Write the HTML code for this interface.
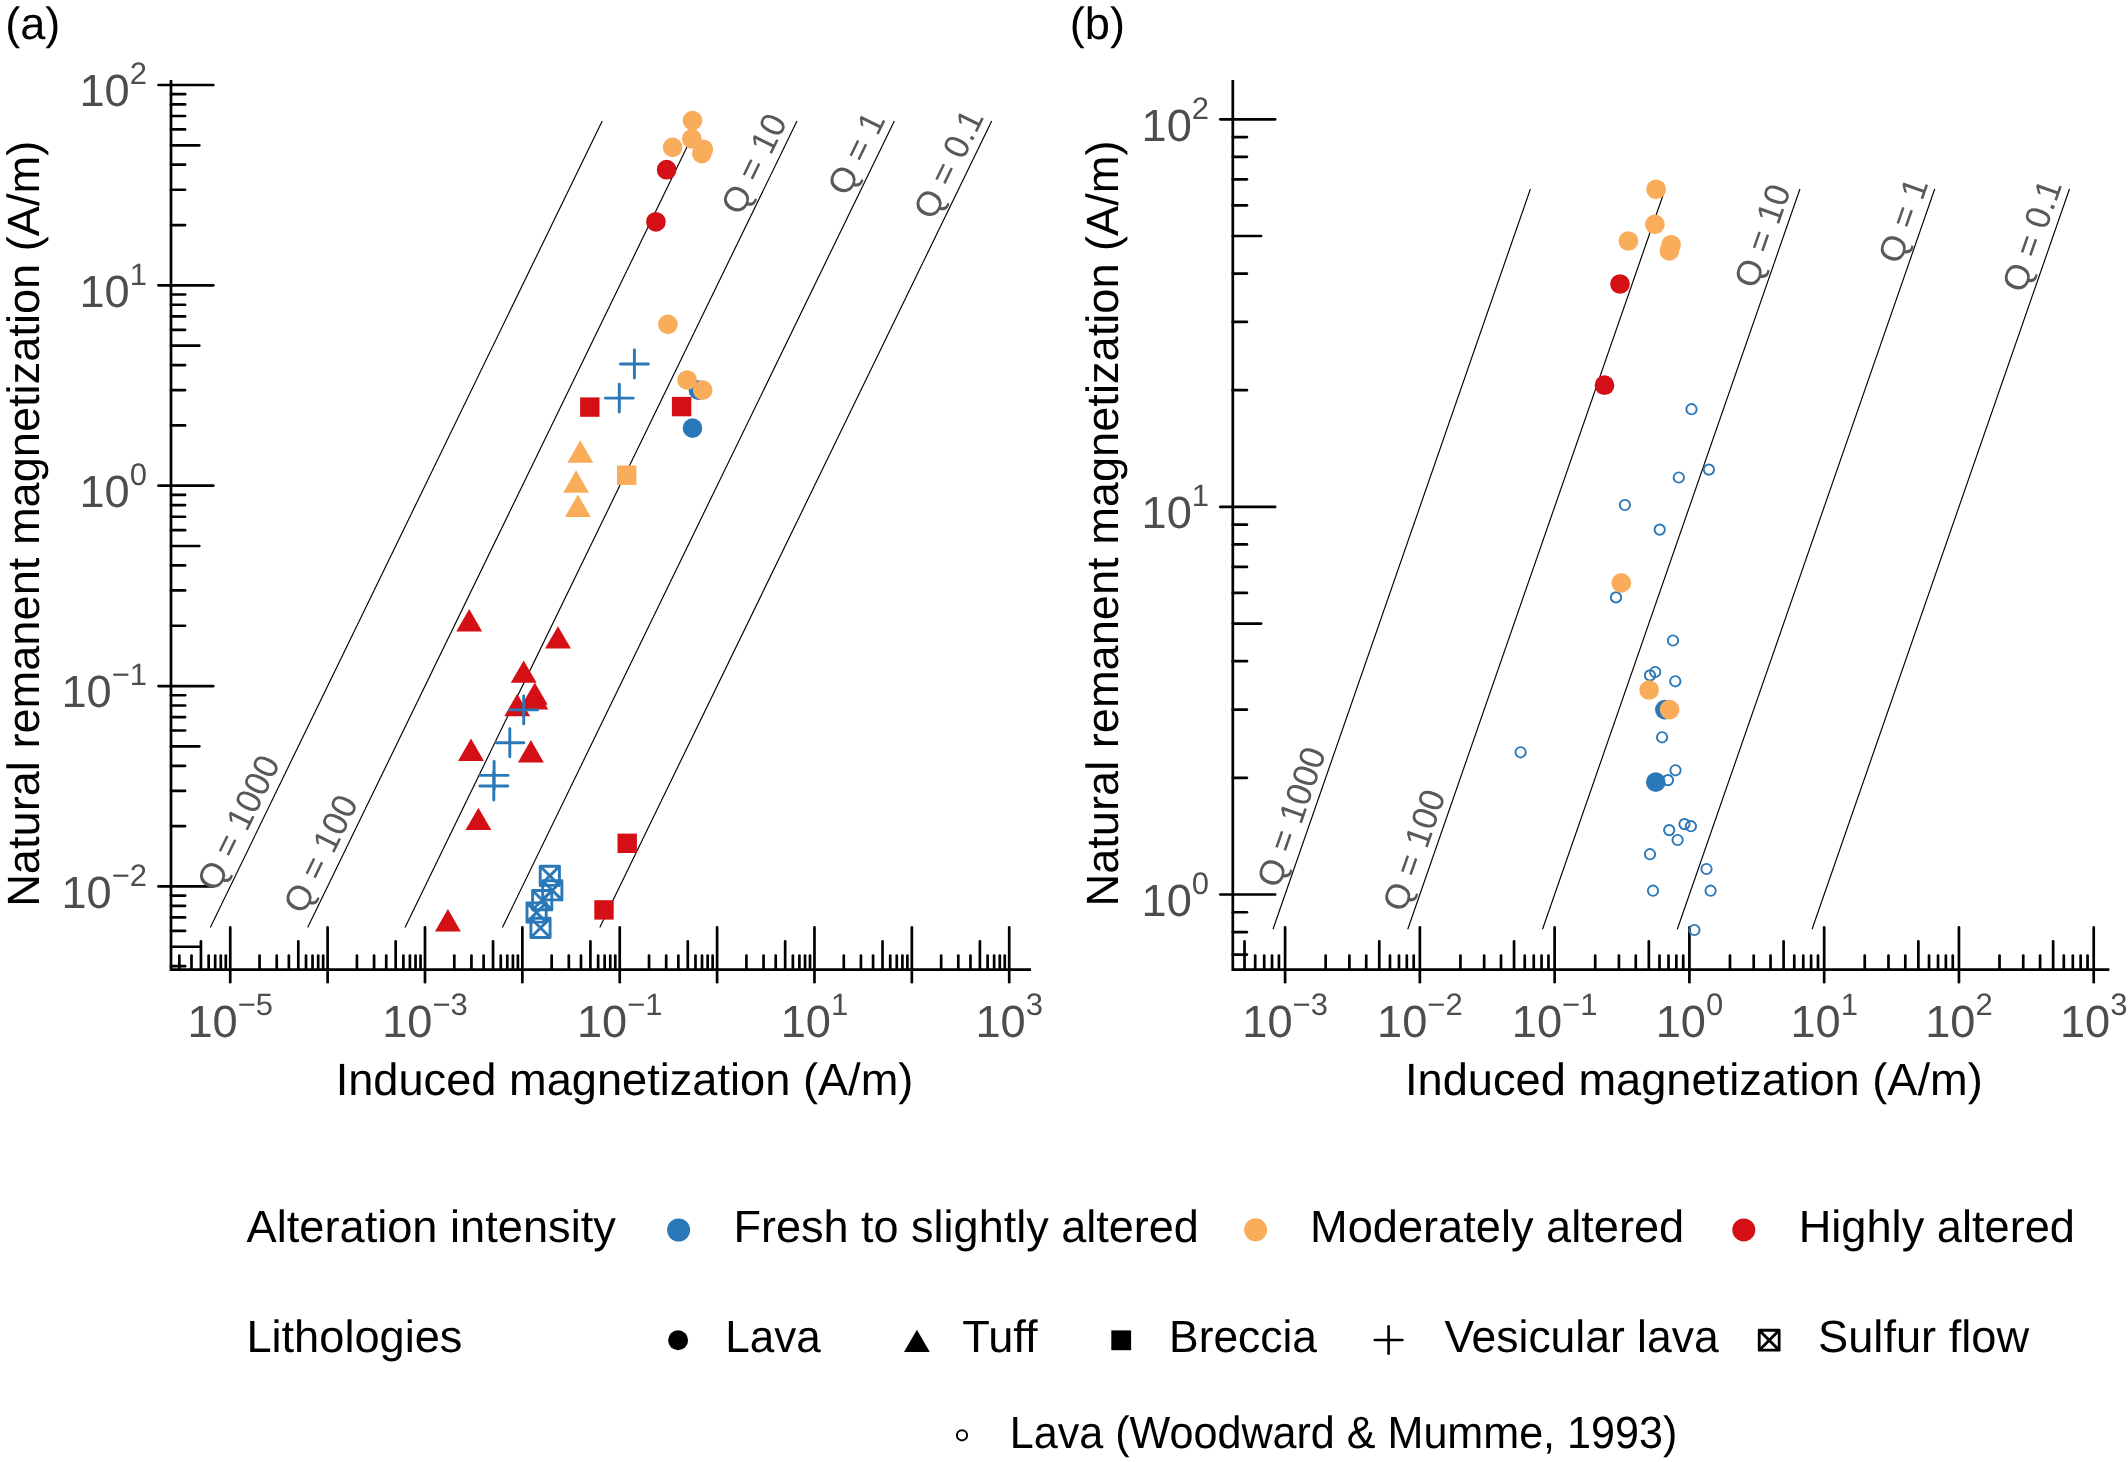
<!DOCTYPE html>
<html><head><meta charset="utf-8"><title>Q plot</title>
<style>html,body{margin:0;padding:0;background:#fff;} svg{display:block;will-change:transform;} text{-webkit-font-smoothing:antialiased;text-rendering:geometricPrecision;}</style>
</head><body>
<svg width="2128" height="1462" viewBox="0 0 2128 1462" font-family="'Liberation Sans', Arial, Helvetica, sans-serif">
<rect width="2128" height="1462" fill="#fff"/>
<line x1="602.23" y1="121.00" x2="210.29" y2="927.50" stroke="#000" stroke-width="1.15" stroke-linecap="butt"/>
<line x1="699.60" y1="121.00" x2="307.66" y2="927.50" stroke="#000" stroke-width="1.15" stroke-linecap="butt"/>
<line x1="796.97" y1="121.00" x2="405.03" y2="927.50" stroke="#000" stroke-width="1.15" stroke-linecap="butt"/>
<line x1="894.34" y1="121.00" x2="502.40" y2="927.50" stroke="#000" stroke-width="1.15" stroke-linecap="butt"/>
<line x1="991.71" y1="121.00" x2="599.77" y2="927.50" stroke="#000" stroke-width="1.15" stroke-linecap="butt"/>
<line x1="1530.40" y1="189.00" x2="1272.99" y2="929.30" stroke="#000" stroke-width="1.15" stroke-linecap="butt"/>
<line x1="1665.17" y1="189.00" x2="1407.76" y2="929.30" stroke="#000" stroke-width="1.15" stroke-linecap="butt"/>
<line x1="1799.94" y1="189.00" x2="1542.53" y2="929.30" stroke="#000" stroke-width="1.15" stroke-linecap="butt"/>
<line x1="1934.71" y1="189.00" x2="1677.30" y2="929.30" stroke="#000" stroke-width="1.15" stroke-linecap="butt"/>
<line x1="2069.48" y1="189.00" x2="1812.07" y2="929.30" stroke="#000" stroke-width="1.15" stroke-linecap="butt"/>
<path d="M171.00 80.00 V969.70 H1031.00" fill="none" stroke="#000" stroke-width="2.7" stroke-linejoin="miter" stroke-linecap="butt"/>
<line x1="179.34" y1="955.60" x2="179.34" y2="969.70" stroke="#000" stroke-width="2.7" stroke-linecap="round"/>
<line x1="191.50" y1="955.60" x2="191.50" y2="969.70" stroke="#000" stroke-width="2.7" stroke-linecap="round"/>
<line x1="200.94" y1="941.40" x2="200.94" y2="969.70" stroke="#000" stroke-width="2.7" stroke-linecap="round"/>
<line x1="208.65" y1="955.60" x2="208.65" y2="969.70" stroke="#000" stroke-width="2.7" stroke-linecap="round"/>
<line x1="215.17" y1="955.60" x2="215.17" y2="969.70" stroke="#000" stroke-width="2.7" stroke-linecap="round"/>
<line x1="220.81" y1="955.60" x2="220.81" y2="969.70" stroke="#000" stroke-width="2.7" stroke-linecap="round"/>
<line x1="225.79" y1="955.60" x2="225.79" y2="969.70" stroke="#000" stroke-width="2.7" stroke-linecap="round"/>
<line x1="230.25" y1="927.40" x2="230.25" y2="982.20" stroke="#000" stroke-width="2.7" stroke-linecap="round"/>
<line x1="259.56" y1="955.60" x2="259.56" y2="969.70" stroke="#000" stroke-width="2.7" stroke-linecap="round"/>
<line x1="276.71" y1="955.60" x2="276.71" y2="969.70" stroke="#000" stroke-width="2.7" stroke-linecap="round"/>
<line x1="288.87" y1="955.60" x2="288.87" y2="969.70" stroke="#000" stroke-width="2.7" stroke-linecap="round"/>
<line x1="298.31" y1="941.40" x2="298.31" y2="969.70" stroke="#000" stroke-width="2.7" stroke-linecap="round"/>
<line x1="306.02" y1="955.60" x2="306.02" y2="969.70" stroke="#000" stroke-width="2.7" stroke-linecap="round"/>
<line x1="312.54" y1="955.60" x2="312.54" y2="969.70" stroke="#000" stroke-width="2.7" stroke-linecap="round"/>
<line x1="318.18" y1="955.60" x2="318.18" y2="969.70" stroke="#000" stroke-width="2.7" stroke-linecap="round"/>
<line x1="323.16" y1="955.60" x2="323.16" y2="969.70" stroke="#000" stroke-width="2.7" stroke-linecap="round"/>
<line x1="327.62" y1="927.40" x2="327.62" y2="982.20" stroke="#000" stroke-width="2.7" stroke-linecap="round"/>
<line x1="356.93" y1="955.60" x2="356.93" y2="969.70" stroke="#000" stroke-width="2.7" stroke-linecap="round"/>
<line x1="374.08" y1="955.60" x2="374.08" y2="969.70" stroke="#000" stroke-width="2.7" stroke-linecap="round"/>
<line x1="386.24" y1="955.60" x2="386.24" y2="969.70" stroke="#000" stroke-width="2.7" stroke-linecap="round"/>
<line x1="395.68" y1="941.40" x2="395.68" y2="969.70" stroke="#000" stroke-width="2.7" stroke-linecap="round"/>
<line x1="403.39" y1="955.60" x2="403.39" y2="969.70" stroke="#000" stroke-width="2.7" stroke-linecap="round"/>
<line x1="409.91" y1="955.60" x2="409.91" y2="969.70" stroke="#000" stroke-width="2.7" stroke-linecap="round"/>
<line x1="415.55" y1="955.60" x2="415.55" y2="969.70" stroke="#000" stroke-width="2.7" stroke-linecap="round"/>
<line x1="420.53" y1="955.60" x2="420.53" y2="969.70" stroke="#000" stroke-width="2.7" stroke-linecap="round"/>
<line x1="424.99" y1="927.40" x2="424.99" y2="982.20" stroke="#000" stroke-width="2.7" stroke-linecap="round"/>
<line x1="454.30" y1="955.60" x2="454.30" y2="969.70" stroke="#000" stroke-width="2.7" stroke-linecap="round"/>
<line x1="471.45" y1="955.60" x2="471.45" y2="969.70" stroke="#000" stroke-width="2.7" stroke-linecap="round"/>
<line x1="483.61" y1="955.60" x2="483.61" y2="969.70" stroke="#000" stroke-width="2.7" stroke-linecap="round"/>
<line x1="493.05" y1="941.40" x2="493.05" y2="969.70" stroke="#000" stroke-width="2.7" stroke-linecap="round"/>
<line x1="500.76" y1="955.60" x2="500.76" y2="969.70" stroke="#000" stroke-width="2.7" stroke-linecap="round"/>
<line x1="507.28" y1="955.60" x2="507.28" y2="969.70" stroke="#000" stroke-width="2.7" stroke-linecap="round"/>
<line x1="512.92" y1="955.60" x2="512.92" y2="969.70" stroke="#000" stroke-width="2.7" stroke-linecap="round"/>
<line x1="517.90" y1="955.60" x2="517.90" y2="969.70" stroke="#000" stroke-width="2.7" stroke-linecap="round"/>
<line x1="522.36" y1="927.40" x2="522.36" y2="982.20" stroke="#000" stroke-width="2.7" stroke-linecap="round"/>
<line x1="551.67" y1="955.60" x2="551.67" y2="969.70" stroke="#000" stroke-width="2.7" stroke-linecap="round"/>
<line x1="568.82" y1="955.60" x2="568.82" y2="969.70" stroke="#000" stroke-width="2.7" stroke-linecap="round"/>
<line x1="580.98" y1="955.60" x2="580.98" y2="969.70" stroke="#000" stroke-width="2.7" stroke-linecap="round"/>
<line x1="590.42" y1="941.40" x2="590.42" y2="969.70" stroke="#000" stroke-width="2.7" stroke-linecap="round"/>
<line x1="598.13" y1="955.60" x2="598.13" y2="969.70" stroke="#000" stroke-width="2.7" stroke-linecap="round"/>
<line x1="604.65" y1="955.60" x2="604.65" y2="969.70" stroke="#000" stroke-width="2.7" stroke-linecap="round"/>
<line x1="610.29" y1="955.60" x2="610.29" y2="969.70" stroke="#000" stroke-width="2.7" stroke-linecap="round"/>
<line x1="615.27" y1="955.60" x2="615.27" y2="969.70" stroke="#000" stroke-width="2.7" stroke-linecap="round"/>
<line x1="619.73" y1="927.40" x2="619.73" y2="982.20" stroke="#000" stroke-width="2.7" stroke-linecap="round"/>
<line x1="649.04" y1="955.60" x2="649.04" y2="969.70" stroke="#000" stroke-width="2.7" stroke-linecap="round"/>
<line x1="666.19" y1="955.60" x2="666.19" y2="969.70" stroke="#000" stroke-width="2.7" stroke-linecap="round"/>
<line x1="678.35" y1="955.60" x2="678.35" y2="969.70" stroke="#000" stroke-width="2.7" stroke-linecap="round"/>
<line x1="687.79" y1="941.40" x2="687.79" y2="969.70" stroke="#000" stroke-width="2.7" stroke-linecap="round"/>
<line x1="695.50" y1="955.60" x2="695.50" y2="969.70" stroke="#000" stroke-width="2.7" stroke-linecap="round"/>
<line x1="702.02" y1="955.60" x2="702.02" y2="969.70" stroke="#000" stroke-width="2.7" stroke-linecap="round"/>
<line x1="707.66" y1="955.60" x2="707.66" y2="969.70" stroke="#000" stroke-width="2.7" stroke-linecap="round"/>
<line x1="712.64" y1="955.60" x2="712.64" y2="969.70" stroke="#000" stroke-width="2.7" stroke-linecap="round"/>
<line x1="717.10" y1="927.40" x2="717.10" y2="982.20" stroke="#000" stroke-width="2.7" stroke-linecap="round"/>
<line x1="746.41" y1="955.60" x2="746.41" y2="969.70" stroke="#000" stroke-width="2.7" stroke-linecap="round"/>
<line x1="763.56" y1="955.60" x2="763.56" y2="969.70" stroke="#000" stroke-width="2.7" stroke-linecap="round"/>
<line x1="775.72" y1="955.60" x2="775.72" y2="969.70" stroke="#000" stroke-width="2.7" stroke-linecap="round"/>
<line x1="785.16" y1="941.40" x2="785.16" y2="969.70" stroke="#000" stroke-width="2.7" stroke-linecap="round"/>
<line x1="792.87" y1="955.60" x2="792.87" y2="969.70" stroke="#000" stroke-width="2.7" stroke-linecap="round"/>
<line x1="799.39" y1="955.60" x2="799.39" y2="969.70" stroke="#000" stroke-width="2.7" stroke-linecap="round"/>
<line x1="805.03" y1="955.60" x2="805.03" y2="969.70" stroke="#000" stroke-width="2.7" stroke-linecap="round"/>
<line x1="810.01" y1="955.60" x2="810.01" y2="969.70" stroke="#000" stroke-width="2.7" stroke-linecap="round"/>
<line x1="814.47" y1="927.40" x2="814.47" y2="982.20" stroke="#000" stroke-width="2.7" stroke-linecap="round"/>
<line x1="843.78" y1="955.60" x2="843.78" y2="969.70" stroke="#000" stroke-width="2.7" stroke-linecap="round"/>
<line x1="860.93" y1="955.60" x2="860.93" y2="969.70" stroke="#000" stroke-width="2.7" stroke-linecap="round"/>
<line x1="873.09" y1="955.60" x2="873.09" y2="969.70" stroke="#000" stroke-width="2.7" stroke-linecap="round"/>
<line x1="882.53" y1="941.40" x2="882.53" y2="969.70" stroke="#000" stroke-width="2.7" stroke-linecap="round"/>
<line x1="890.24" y1="955.60" x2="890.24" y2="969.70" stroke="#000" stroke-width="2.7" stroke-linecap="round"/>
<line x1="896.76" y1="955.60" x2="896.76" y2="969.70" stroke="#000" stroke-width="2.7" stroke-linecap="round"/>
<line x1="902.40" y1="955.60" x2="902.40" y2="969.70" stroke="#000" stroke-width="2.7" stroke-linecap="round"/>
<line x1="907.38" y1="955.60" x2="907.38" y2="969.70" stroke="#000" stroke-width="2.7" stroke-linecap="round"/>
<line x1="911.84" y1="927.40" x2="911.84" y2="982.20" stroke="#000" stroke-width="2.7" stroke-linecap="round"/>
<line x1="941.15" y1="955.60" x2="941.15" y2="969.70" stroke="#000" stroke-width="2.7" stroke-linecap="round"/>
<line x1="958.30" y1="955.60" x2="958.30" y2="969.70" stroke="#000" stroke-width="2.7" stroke-linecap="round"/>
<line x1="970.46" y1="955.60" x2="970.46" y2="969.70" stroke="#000" stroke-width="2.7" stroke-linecap="round"/>
<line x1="979.90" y1="941.40" x2="979.90" y2="969.70" stroke="#000" stroke-width="2.7" stroke-linecap="round"/>
<line x1="987.61" y1="955.60" x2="987.61" y2="969.70" stroke="#000" stroke-width="2.7" stroke-linecap="round"/>
<line x1="994.13" y1="955.60" x2="994.13" y2="969.70" stroke="#000" stroke-width="2.7" stroke-linecap="round"/>
<line x1="999.77" y1="955.60" x2="999.77" y2="969.70" stroke="#000" stroke-width="2.7" stroke-linecap="round"/>
<line x1="1004.75" y1="955.60" x2="1004.75" y2="969.70" stroke="#000" stroke-width="2.7" stroke-linecap="round"/>
<line x1="1009.21" y1="927.40" x2="1009.21" y2="982.20" stroke="#000" stroke-width="2.7" stroke-linecap="round"/>
<line x1="171.00" y1="966.15" x2="185.10" y2="966.15" stroke="#000" stroke-width="2.7" stroke-linecap="round"/>
<line x1="171.00" y1="946.73" x2="199.30" y2="946.73" stroke="#000" stroke-width="2.7" stroke-linecap="round"/>
<line x1="171.00" y1="930.87" x2="185.10" y2="930.87" stroke="#000" stroke-width="2.7" stroke-linecap="round"/>
<line x1="171.00" y1="917.46" x2="185.10" y2="917.46" stroke="#000" stroke-width="2.7" stroke-linecap="round"/>
<line x1="171.00" y1="905.84" x2="185.10" y2="905.84" stroke="#000" stroke-width="2.7" stroke-linecap="round"/>
<line x1="171.00" y1="895.59" x2="185.10" y2="895.59" stroke="#000" stroke-width="2.7" stroke-linecap="round"/>
<line x1="158.50" y1="886.42" x2="213.30" y2="886.42" stroke="#000" stroke-width="2.7" stroke-linecap="round"/>
<line x1="171.00" y1="826.11" x2="185.10" y2="826.11" stroke="#000" stroke-width="2.7" stroke-linecap="round"/>
<line x1="171.00" y1="790.82" x2="185.10" y2="790.82" stroke="#000" stroke-width="2.7" stroke-linecap="round"/>
<line x1="171.00" y1="765.79" x2="185.10" y2="765.79" stroke="#000" stroke-width="2.7" stroke-linecap="round"/>
<line x1="171.00" y1="746.37" x2="199.30" y2="746.37" stroke="#000" stroke-width="2.7" stroke-linecap="round"/>
<line x1="171.00" y1="730.51" x2="185.10" y2="730.51" stroke="#000" stroke-width="2.7" stroke-linecap="round"/>
<line x1="171.00" y1="717.10" x2="185.10" y2="717.10" stroke="#000" stroke-width="2.7" stroke-linecap="round"/>
<line x1="171.00" y1="705.48" x2="185.10" y2="705.48" stroke="#000" stroke-width="2.7" stroke-linecap="round"/>
<line x1="171.00" y1="695.23" x2="185.10" y2="695.23" stroke="#000" stroke-width="2.7" stroke-linecap="round"/>
<line x1="158.50" y1="686.06" x2="213.30" y2="686.06" stroke="#000" stroke-width="2.7" stroke-linecap="round"/>
<line x1="171.00" y1="625.75" x2="185.10" y2="625.75" stroke="#000" stroke-width="2.7" stroke-linecap="round"/>
<line x1="171.00" y1="590.46" x2="185.10" y2="590.46" stroke="#000" stroke-width="2.7" stroke-linecap="round"/>
<line x1="171.00" y1="565.43" x2="185.10" y2="565.43" stroke="#000" stroke-width="2.7" stroke-linecap="round"/>
<line x1="171.00" y1="546.01" x2="199.30" y2="546.01" stroke="#000" stroke-width="2.7" stroke-linecap="round"/>
<line x1="171.00" y1="530.15" x2="185.10" y2="530.15" stroke="#000" stroke-width="2.7" stroke-linecap="round"/>
<line x1="171.00" y1="516.74" x2="185.10" y2="516.74" stroke="#000" stroke-width="2.7" stroke-linecap="round"/>
<line x1="171.00" y1="505.12" x2="185.10" y2="505.12" stroke="#000" stroke-width="2.7" stroke-linecap="round"/>
<line x1="171.00" y1="494.87" x2="185.10" y2="494.87" stroke="#000" stroke-width="2.7" stroke-linecap="round"/>
<line x1="158.50" y1="485.70" x2="213.30" y2="485.70" stroke="#000" stroke-width="2.7" stroke-linecap="round"/>
<line x1="171.00" y1="425.39" x2="185.10" y2="425.39" stroke="#000" stroke-width="2.7" stroke-linecap="round"/>
<line x1="171.00" y1="390.10" x2="185.10" y2="390.10" stroke="#000" stroke-width="2.7" stroke-linecap="round"/>
<line x1="171.00" y1="365.07" x2="185.10" y2="365.07" stroke="#000" stroke-width="2.7" stroke-linecap="round"/>
<line x1="171.00" y1="345.65" x2="199.30" y2="345.65" stroke="#000" stroke-width="2.7" stroke-linecap="round"/>
<line x1="171.00" y1="329.79" x2="185.10" y2="329.79" stroke="#000" stroke-width="2.7" stroke-linecap="round"/>
<line x1="171.00" y1="316.38" x2="185.10" y2="316.38" stroke="#000" stroke-width="2.7" stroke-linecap="round"/>
<line x1="171.00" y1="304.76" x2="185.10" y2="304.76" stroke="#000" stroke-width="2.7" stroke-linecap="round"/>
<line x1="171.00" y1="294.51" x2="185.10" y2="294.51" stroke="#000" stroke-width="2.7" stroke-linecap="round"/>
<line x1="158.50" y1="285.34" x2="213.30" y2="285.34" stroke="#000" stroke-width="2.7" stroke-linecap="round"/>
<line x1="171.00" y1="225.03" x2="185.10" y2="225.03" stroke="#000" stroke-width="2.7" stroke-linecap="round"/>
<line x1="171.00" y1="189.74" x2="185.10" y2="189.74" stroke="#000" stroke-width="2.7" stroke-linecap="round"/>
<line x1="171.00" y1="164.71" x2="185.10" y2="164.71" stroke="#000" stroke-width="2.7" stroke-linecap="round"/>
<line x1="171.00" y1="145.29" x2="199.30" y2="145.29" stroke="#000" stroke-width="2.7" stroke-linecap="round"/>
<line x1="171.00" y1="129.43" x2="185.10" y2="129.43" stroke="#000" stroke-width="2.7" stroke-linecap="round"/>
<line x1="171.00" y1="116.02" x2="185.10" y2="116.02" stroke="#000" stroke-width="2.7" stroke-linecap="round"/>
<line x1="171.00" y1="104.40" x2="185.10" y2="104.40" stroke="#000" stroke-width="2.7" stroke-linecap="round"/>
<line x1="171.00" y1="94.15" x2="185.10" y2="94.15" stroke="#000" stroke-width="2.7" stroke-linecap="round"/>
<line x1="158.50" y1="84.98" x2="213.30" y2="84.98" stroke="#000" stroke-width="2.7" stroke-linecap="round"/>
<path d="M1232.80 80.00 V969.70 H2109.30" fill="none" stroke="#000" stroke-width="2.7" stroke-linejoin="miter" stroke-linecap="butt"/>
<line x1="1244.52" y1="941.40" x2="1244.52" y2="969.70" stroke="#000" stroke-width="2.7" stroke-linecap="round"/>
<line x1="1255.19" y1="955.60" x2="1255.19" y2="969.70" stroke="#000" stroke-width="2.7" stroke-linecap="round"/>
<line x1="1264.21" y1="955.60" x2="1264.21" y2="969.70" stroke="#000" stroke-width="2.7" stroke-linecap="round"/>
<line x1="1272.03" y1="955.60" x2="1272.03" y2="969.70" stroke="#000" stroke-width="2.7" stroke-linecap="round"/>
<line x1="1278.92" y1="955.60" x2="1278.92" y2="969.70" stroke="#000" stroke-width="2.7" stroke-linecap="round"/>
<line x1="1285.09" y1="927.40" x2="1285.09" y2="982.20" stroke="#000" stroke-width="2.7" stroke-linecap="round"/>
<line x1="1325.66" y1="955.60" x2="1325.66" y2="969.70" stroke="#000" stroke-width="2.7" stroke-linecap="round"/>
<line x1="1349.39" y1="955.60" x2="1349.39" y2="969.70" stroke="#000" stroke-width="2.7" stroke-linecap="round"/>
<line x1="1366.23" y1="955.60" x2="1366.23" y2="969.70" stroke="#000" stroke-width="2.7" stroke-linecap="round"/>
<line x1="1379.29" y1="941.40" x2="1379.29" y2="969.70" stroke="#000" stroke-width="2.7" stroke-linecap="round"/>
<line x1="1389.96" y1="955.60" x2="1389.96" y2="969.70" stroke="#000" stroke-width="2.7" stroke-linecap="round"/>
<line x1="1398.98" y1="955.60" x2="1398.98" y2="969.70" stroke="#000" stroke-width="2.7" stroke-linecap="round"/>
<line x1="1406.80" y1="955.60" x2="1406.80" y2="969.70" stroke="#000" stroke-width="2.7" stroke-linecap="round"/>
<line x1="1413.69" y1="955.60" x2="1413.69" y2="969.70" stroke="#000" stroke-width="2.7" stroke-linecap="round"/>
<line x1="1419.86" y1="927.40" x2="1419.86" y2="982.20" stroke="#000" stroke-width="2.7" stroke-linecap="round"/>
<line x1="1460.43" y1="955.60" x2="1460.43" y2="969.70" stroke="#000" stroke-width="2.7" stroke-linecap="round"/>
<line x1="1484.16" y1="955.60" x2="1484.16" y2="969.70" stroke="#000" stroke-width="2.7" stroke-linecap="round"/>
<line x1="1501.00" y1="955.60" x2="1501.00" y2="969.70" stroke="#000" stroke-width="2.7" stroke-linecap="round"/>
<line x1="1514.06" y1="941.40" x2="1514.06" y2="969.70" stroke="#000" stroke-width="2.7" stroke-linecap="round"/>
<line x1="1524.73" y1="955.60" x2="1524.73" y2="969.70" stroke="#000" stroke-width="2.7" stroke-linecap="round"/>
<line x1="1533.75" y1="955.60" x2="1533.75" y2="969.70" stroke="#000" stroke-width="2.7" stroke-linecap="round"/>
<line x1="1541.57" y1="955.60" x2="1541.57" y2="969.70" stroke="#000" stroke-width="2.7" stroke-linecap="round"/>
<line x1="1548.46" y1="955.60" x2="1548.46" y2="969.70" stroke="#000" stroke-width="2.7" stroke-linecap="round"/>
<line x1="1554.63" y1="927.40" x2="1554.63" y2="982.20" stroke="#000" stroke-width="2.7" stroke-linecap="round"/>
<line x1="1595.20" y1="955.60" x2="1595.20" y2="969.70" stroke="#000" stroke-width="2.7" stroke-linecap="round"/>
<line x1="1618.93" y1="955.60" x2="1618.93" y2="969.70" stroke="#000" stroke-width="2.7" stroke-linecap="round"/>
<line x1="1635.77" y1="955.60" x2="1635.77" y2="969.70" stroke="#000" stroke-width="2.7" stroke-linecap="round"/>
<line x1="1648.83" y1="941.40" x2="1648.83" y2="969.70" stroke="#000" stroke-width="2.7" stroke-linecap="round"/>
<line x1="1659.50" y1="955.60" x2="1659.50" y2="969.70" stroke="#000" stroke-width="2.7" stroke-linecap="round"/>
<line x1="1668.52" y1="955.60" x2="1668.52" y2="969.70" stroke="#000" stroke-width="2.7" stroke-linecap="round"/>
<line x1="1676.34" y1="955.60" x2="1676.34" y2="969.70" stroke="#000" stroke-width="2.7" stroke-linecap="round"/>
<line x1="1683.23" y1="955.60" x2="1683.23" y2="969.70" stroke="#000" stroke-width="2.7" stroke-linecap="round"/>
<line x1="1689.40" y1="927.40" x2="1689.40" y2="982.20" stroke="#000" stroke-width="2.7" stroke-linecap="round"/>
<line x1="1729.97" y1="955.60" x2="1729.97" y2="969.70" stroke="#000" stroke-width="2.7" stroke-linecap="round"/>
<line x1="1753.70" y1="955.60" x2="1753.70" y2="969.70" stroke="#000" stroke-width="2.7" stroke-linecap="round"/>
<line x1="1770.54" y1="955.60" x2="1770.54" y2="969.70" stroke="#000" stroke-width="2.7" stroke-linecap="round"/>
<line x1="1783.60" y1="941.40" x2="1783.60" y2="969.70" stroke="#000" stroke-width="2.7" stroke-linecap="round"/>
<line x1="1794.27" y1="955.60" x2="1794.27" y2="969.70" stroke="#000" stroke-width="2.7" stroke-linecap="round"/>
<line x1="1803.29" y1="955.60" x2="1803.29" y2="969.70" stroke="#000" stroke-width="2.7" stroke-linecap="round"/>
<line x1="1811.11" y1="955.60" x2="1811.11" y2="969.70" stroke="#000" stroke-width="2.7" stroke-linecap="round"/>
<line x1="1818.00" y1="955.60" x2="1818.00" y2="969.70" stroke="#000" stroke-width="2.7" stroke-linecap="round"/>
<line x1="1824.17" y1="927.40" x2="1824.17" y2="982.20" stroke="#000" stroke-width="2.7" stroke-linecap="round"/>
<line x1="1864.74" y1="955.60" x2="1864.74" y2="969.70" stroke="#000" stroke-width="2.7" stroke-linecap="round"/>
<line x1="1888.47" y1="955.60" x2="1888.47" y2="969.70" stroke="#000" stroke-width="2.7" stroke-linecap="round"/>
<line x1="1905.31" y1="955.60" x2="1905.31" y2="969.70" stroke="#000" stroke-width="2.7" stroke-linecap="round"/>
<line x1="1918.37" y1="941.40" x2="1918.37" y2="969.70" stroke="#000" stroke-width="2.7" stroke-linecap="round"/>
<line x1="1929.04" y1="955.60" x2="1929.04" y2="969.70" stroke="#000" stroke-width="2.7" stroke-linecap="round"/>
<line x1="1938.06" y1="955.60" x2="1938.06" y2="969.70" stroke="#000" stroke-width="2.7" stroke-linecap="round"/>
<line x1="1945.88" y1="955.60" x2="1945.88" y2="969.70" stroke="#000" stroke-width="2.7" stroke-linecap="round"/>
<line x1="1952.77" y1="955.60" x2="1952.77" y2="969.70" stroke="#000" stroke-width="2.7" stroke-linecap="round"/>
<line x1="1958.94" y1="927.40" x2="1958.94" y2="982.20" stroke="#000" stroke-width="2.7" stroke-linecap="round"/>
<line x1="1999.51" y1="955.60" x2="1999.51" y2="969.70" stroke="#000" stroke-width="2.7" stroke-linecap="round"/>
<line x1="2023.24" y1="955.60" x2="2023.24" y2="969.70" stroke="#000" stroke-width="2.7" stroke-linecap="round"/>
<line x1="2040.08" y1="955.60" x2="2040.08" y2="969.70" stroke="#000" stroke-width="2.7" stroke-linecap="round"/>
<line x1="2053.14" y1="941.40" x2="2053.14" y2="969.70" stroke="#000" stroke-width="2.7" stroke-linecap="round"/>
<line x1="2063.81" y1="955.60" x2="2063.81" y2="969.70" stroke="#000" stroke-width="2.7" stroke-linecap="round"/>
<line x1="2072.83" y1="955.60" x2="2072.83" y2="969.70" stroke="#000" stroke-width="2.7" stroke-linecap="round"/>
<line x1="2080.65" y1="955.60" x2="2080.65" y2="969.70" stroke="#000" stroke-width="2.7" stroke-linecap="round"/>
<line x1="2087.54" y1="955.60" x2="2087.54" y2="969.70" stroke="#000" stroke-width="2.7" stroke-linecap="round"/>
<line x1="2093.71" y1="927.40" x2="2093.71" y2="982.20" stroke="#000" stroke-width="2.7" stroke-linecap="round"/>
<line x1="1232.80" y1="954.54" x2="1246.90" y2="954.54" stroke="#000" stroke-width="2.7" stroke-linecap="round"/>
<line x1="1232.80" y1="932.06" x2="1246.90" y2="932.06" stroke="#000" stroke-width="2.7" stroke-linecap="round"/>
<line x1="1232.80" y1="912.24" x2="1246.90" y2="912.24" stroke="#000" stroke-width="2.7" stroke-linecap="round"/>
<line x1="1220.30" y1="894.50" x2="1275.10" y2="894.50" stroke="#000" stroke-width="2.7" stroke-linecap="round"/>
<line x1="1232.80" y1="777.82" x2="1246.90" y2="777.82" stroke="#000" stroke-width="2.7" stroke-linecap="round"/>
<line x1="1232.80" y1="709.57" x2="1246.90" y2="709.57" stroke="#000" stroke-width="2.7" stroke-linecap="round"/>
<line x1="1232.80" y1="661.14" x2="1246.90" y2="661.14" stroke="#000" stroke-width="2.7" stroke-linecap="round"/>
<line x1="1232.80" y1="623.58" x2="1261.10" y2="623.58" stroke="#000" stroke-width="2.7" stroke-linecap="round"/>
<line x1="1232.80" y1="592.89" x2="1246.90" y2="592.89" stroke="#000" stroke-width="2.7" stroke-linecap="round"/>
<line x1="1232.80" y1="566.94" x2="1246.90" y2="566.94" stroke="#000" stroke-width="2.7" stroke-linecap="round"/>
<line x1="1232.80" y1="544.46" x2="1246.90" y2="544.46" stroke="#000" stroke-width="2.7" stroke-linecap="round"/>
<line x1="1232.80" y1="524.64" x2="1246.90" y2="524.64" stroke="#000" stroke-width="2.7" stroke-linecap="round"/>
<line x1="1220.30" y1="506.90" x2="1275.10" y2="506.90" stroke="#000" stroke-width="2.7" stroke-linecap="round"/>
<line x1="1232.80" y1="390.22" x2="1246.90" y2="390.22" stroke="#000" stroke-width="2.7" stroke-linecap="round"/>
<line x1="1232.80" y1="321.97" x2="1246.90" y2="321.97" stroke="#000" stroke-width="2.7" stroke-linecap="round"/>
<line x1="1232.80" y1="273.54" x2="1246.90" y2="273.54" stroke="#000" stroke-width="2.7" stroke-linecap="round"/>
<line x1="1232.80" y1="235.98" x2="1261.10" y2="235.98" stroke="#000" stroke-width="2.7" stroke-linecap="round"/>
<line x1="1232.80" y1="205.29" x2="1246.90" y2="205.29" stroke="#000" stroke-width="2.7" stroke-linecap="round"/>
<line x1="1232.80" y1="179.34" x2="1246.90" y2="179.34" stroke="#000" stroke-width="2.7" stroke-linecap="round"/>
<line x1="1232.80" y1="156.86" x2="1246.90" y2="156.86" stroke="#000" stroke-width="2.7" stroke-linecap="round"/>
<line x1="1232.80" y1="137.04" x2="1246.90" y2="137.04" stroke="#000" stroke-width="2.7" stroke-linecap="round"/>
<line x1="1220.30" y1="119.30" x2="1275.10" y2="119.30" stroke="#000" stroke-width="2.7" stroke-linecap="round"/>
<text x="230.25" y="1037.20" text-anchor="middle" font-size="45.2" fill="#4D4D4D">10<tspan font-size="31" dy="-22.1">−5</tspan></text>
<text x="424.99" y="1037.20" text-anchor="middle" font-size="45.2" fill="#4D4D4D">10<tspan font-size="31" dy="-22.1">−3</tspan></text>
<text x="619.73" y="1037.20" text-anchor="middle" font-size="45.2" fill="#4D4D4D">10<tspan font-size="31" dy="-22.1">−1</tspan></text>
<text x="814.47" y="1037.20" text-anchor="middle" font-size="45.2" fill="#4D4D4D">10<tspan font-size="31" dy="-22.1">1</tspan></text>
<text x="1009.21" y="1037.20" text-anchor="middle" font-size="45.2" fill="#4D4D4D">10<tspan font-size="31" dy="-22.1">3</tspan></text>
<text x="147.00" y="106.28" text-anchor="end" font-size="45.2" fill="#4D4D4D">10<tspan font-size="31" dy="-22.1">2</tspan></text>
<text x="147.00" y="306.64" text-anchor="end" font-size="45.2" fill="#4D4D4D">10<tspan font-size="31" dy="-22.1">1</tspan></text>
<text x="147.00" y="507.00" text-anchor="end" font-size="45.2" fill="#4D4D4D">10<tspan font-size="31" dy="-22.1">0</tspan></text>
<text x="147.00" y="707.36" text-anchor="end" font-size="45.2" fill="#4D4D4D">10<tspan font-size="31" dy="-22.1">−1</tspan></text>
<text x="147.00" y="907.72" text-anchor="end" font-size="45.2" fill="#4D4D4D">10<tspan font-size="31" dy="-22.1">−2</tspan></text>
<text x="1285.09" y="1037.20" text-anchor="middle" font-size="45.2" fill="#4D4D4D">10<tspan font-size="31" dy="-22.1">−3</tspan></text>
<text x="1419.86" y="1037.20" text-anchor="middle" font-size="45.2" fill="#4D4D4D">10<tspan font-size="31" dy="-22.1">−2</tspan></text>
<text x="1554.63" y="1037.20" text-anchor="middle" font-size="45.2" fill="#4D4D4D">10<tspan font-size="31" dy="-22.1">−1</tspan></text>
<text x="1689.40" y="1037.20" text-anchor="middle" font-size="45.2" fill="#4D4D4D">10<tspan font-size="31" dy="-22.1">0</tspan></text>
<text x="1824.17" y="1037.20" text-anchor="middle" font-size="45.2" fill="#4D4D4D">10<tspan font-size="31" dy="-22.1">1</tspan></text>
<text x="1958.94" y="1037.20" text-anchor="middle" font-size="45.2" fill="#4D4D4D">10<tspan font-size="31" dy="-22.1">2</tspan></text>
<text x="2093.71" y="1037.20" text-anchor="middle" font-size="45.2" fill="#4D4D4D">10<tspan font-size="31" dy="-22.1">3</tspan></text>
<text x="1209.10" y="140.60" text-anchor="end" font-size="45.2" fill="#4D4D4D">10<tspan font-size="31" dy="-22.1">2</tspan></text>
<text x="1209.10" y="528.20" text-anchor="end" font-size="45.2" fill="#4D4D4D">10<tspan font-size="31" dy="-22.1">1</tspan></text>
<text x="1209.10" y="915.80" text-anchor="end" font-size="45.2" fill="#4D4D4D">10<tspan font-size="31" dy="-22.1">0</tspan></text>
<text x="624.5" y="1094.9" text-anchor="middle" font-size="45.2" fill="#000">Induced magnetization (A/m)</text>
<text x="1693.9" y="1094.9" text-anchor="middle" font-size="45.2" fill="#000">Induced magnetization (A/m)</text>
<text transform="translate(38.8 523.8) rotate(-90)" text-anchor="middle" font-size="45.2" fill="#000">Natural remanent magnetization (A/m)</text>
<text transform="translate(1118.4 523.5) rotate(-90)" text-anchor="middle" font-size="45.2" fill="#000">Natural remanent magnetization (A/m)</text>
<text x="5.2" y="38.5" font-size="45.2" fill="#000">(a)</text>
<text x="1069.8" y="38.8" font-size="45.2" fill="#000">(b)</text>
<text transform="translate(217.47 893.10) rotate(-64.081)" font-size="35.0" fill="#595959">Q = 1000</text>
<text transform="translate(304.00 915.41) rotate(-64.081)" font-size="35.0" fill="#595959">Q = 100</text>
<text transform="translate(741.39 216.65) rotate(-64.081)" font-size="35.0" fill="#595959">Q = 10</text>
<text transform="translate(848.12 197.40) rotate(-64.081)" font-size="35.0" fill="#595959">Q = 1</text>
<text transform="translate(933.95 221.14) rotate(-64.081)" font-size="35.0" fill="#595959">Q = 0.1</text>
<text transform="translate(1278.89 889.26) rotate(-70.827)" font-size="35.0" fill="#595959">Q = 1000</text>
<text transform="translate(1404.66 913.34) rotate(-70.827)" font-size="35.0" fill="#595959">Q = 100</text>
<text transform="translate(1756.28 289.66) rotate(-70.827)" font-size="35.0" fill="#595959">Q = 10</text>
<text transform="translate(1900.19 265.21) rotate(-70.827)" font-size="35.0" fill="#595959">Q = 1</text>
<text transform="translate(2024.28 294.10) rotate(-70.827)" font-size="35.0" fill="#595959">Q = 0.1</text>
<path d="M540.20 866.20 H559.40 V885.40 H540.20 Z M540.20 866.20 L559.40 885.40 M540.20 885.40 L559.40 866.20" stroke="#2A78B8" stroke-width="2.9" stroke-linejoin="round" stroke-linecap="round" fill="none"/>
<path d="M542.70 880.70 H561.90 V899.90 H542.70 Z M542.70 880.70 L561.90 899.90 M542.70 899.90 L561.90 880.70" stroke="#2A78B8" stroke-width="2.9" stroke-linejoin="round" stroke-linecap="round" fill="none"/>
<path d="M532.60 890.50 H551.80 V909.70 H532.60 Z M532.60 890.50 L551.80 909.70 M532.60 909.70 L551.80 890.50" stroke="#2A78B8" stroke-width="2.9" stroke-linejoin="round" stroke-linecap="round" fill="none"/>
<path d="M527.00 902.90 H546.20 V922.10 H527.00 Z M527.00 902.90 L546.20 922.10 M527.00 922.10 L546.20 902.90" stroke="#2A78B8" stroke-width="2.9" stroke-linejoin="round" stroke-linecap="round" fill="none"/>
<path d="M530.90 918.30 H550.10 V937.50 H530.90 Z M530.90 918.30 L550.10 937.50 M530.90 937.50 L550.10 918.30" stroke="#2A78B8" stroke-width="2.9" stroke-linejoin="round" stroke-linecap="round" fill="none"/>
<path d="M469.20 609.00 L482.13 631.40 L456.27 631.40 Z" fill="#D50F16"/>
<path d="M558.00 626.20 L570.93 648.60 L545.07 648.60 Z" fill="#D50F16"/>
<path d="M523.70 660.40 L536.63 682.80 L510.77 682.80 Z" fill="#D50F16"/>
<path d="M534.80 682.40 L547.73 704.80 L521.87 704.80 Z" fill="#D50F16"/>
<path d="M535.40 687.10 L548.33 709.50 L522.47 709.50 Z" fill="#D50F16"/>
<path d="M517.20 693.80 L530.13 716.20 L504.27 716.20 Z" fill="#D50F16"/>
<path d="M471.00 738.50 L483.93 760.90 L458.07 760.90 Z" fill="#D50F16"/>
<path d="M530.90 740.00 L543.83 762.40 L517.97 762.40 Z" fill="#D50F16"/>
<path d="M478.40 807.70 L491.33 830.10 L465.47 830.10 Z" fill="#D50F16"/>
<path d="M447.90 909.10 L460.83 931.50 L434.97 931.50 Z" fill="#D50F16"/>
<path d="M580.30 440.30 L593.23 462.70 L567.37 462.70 Z" fill="#F9AC5A"/>
<path d="M576.10 470.30 L589.03 492.70 L563.17 492.70 Z" fill="#F9AC5A"/>
<path d="M577.90 494.60 L590.83 517.00 L564.97 517.00 Z" fill="#F9AC5A"/>
<rect x="580.10" y="397.40" width="19.4" height="19.4" fill="#D50F16"/>
<rect x="671.90" y="396.90" width="19.4" height="19.4" fill="#D50F16"/>
<rect x="617.50" y="833.60" width="19.4" height="19.4" fill="#D50F16"/>
<rect x="594.30" y="900.20" width="19.4" height="19.4" fill="#D50F16"/>
<rect x="617.00" y="465.50" width="19.4" height="19.4" fill="#F9AC5A"/>
<circle cx="698.40" cy="390.10" r="9.85" fill="#2A78B8"/>
<circle cx="692.50" cy="428.10" r="9.85" fill="#2A78B8"/>
<circle cx="666.60" cy="169.70" r="9.85" fill="#D50F16"/>
<circle cx="655.90" cy="221.80" r="9.85" fill="#D50F16"/>
<circle cx="692.50" cy="120.60" r="9.85" fill="#F9AC5A"/>
<circle cx="691.80" cy="138.80" r="9.85" fill="#F9AC5A"/>
<circle cx="672.60" cy="147.40" r="9.85" fill="#F9AC5A"/>
<circle cx="703.30" cy="149.30" r="9.85" fill="#F9AC5A"/>
<circle cx="701.80" cy="153.60" r="9.85" fill="#F9AC5A"/>
<circle cx="667.90" cy="324.40" r="9.85" fill="#F9AC5A"/>
<circle cx="687.10" cy="380.00" r="9.85" fill="#F9AC5A"/>
<circle cx="702.70" cy="390.10" r="9.85" fill="#F9AC5A"/>
<path d="M620.40 364.00 H648.40 M634.40 350.00 V378.00" stroke="#2A78B8" stroke-width="2.9" stroke-linecap="round" fill="none"/>
<path d="M605.30 398.10 H633.30 M619.30 384.10 V412.10" stroke="#2A78B8" stroke-width="2.9" stroke-linecap="round" fill="none"/>
<path d="M509.70 709.90 H537.70 M523.70 695.90 V723.90" stroke="#2A78B8" stroke-width="2.9" stroke-linecap="round" fill="none"/>
<path d="M495.80 742.70 H523.80 M509.80 728.70 V756.70" stroke="#2A78B8" stroke-width="2.9" stroke-linecap="round" fill="none"/>
<path d="M480.10 775.40 H508.10 M494.10 761.40 V789.40" stroke="#2A78B8" stroke-width="2.9" stroke-linecap="round" fill="none"/>
<path d="M479.80 786.00 H507.80 M493.80 772.00 V800.00" stroke="#2A78B8" stroke-width="2.9" stroke-linecap="round" fill="none"/>
<circle cx="1691.50" cy="409.20" r="5.15" fill="none" stroke="#2A78B8" stroke-width="1.9"/>
<circle cx="1708.90" cy="469.60" r="5.15" fill="none" stroke="#2A78B8" stroke-width="1.9"/>
<circle cx="1678.80" cy="477.50" r="5.15" fill="none" stroke="#2A78B8" stroke-width="1.9"/>
<circle cx="1624.90" cy="505.00" r="5.15" fill="none" stroke="#2A78B8" stroke-width="1.9"/>
<circle cx="1659.70" cy="529.60" r="5.15" fill="none" stroke="#2A78B8" stroke-width="1.9"/>
<circle cx="1616.00" cy="597.40" r="5.15" fill="none" stroke="#2A78B8" stroke-width="1.9"/>
<circle cx="1673.00" cy="640.50" r="5.15" fill="none" stroke="#2A78B8" stroke-width="1.9"/>
<circle cx="1655.20" cy="672.00" r="5.15" fill="none" stroke="#2A78B8" stroke-width="1.9"/>
<circle cx="1650.00" cy="675.40" r="5.15" fill="none" stroke="#2A78B8" stroke-width="1.9"/>
<circle cx="1675.30" cy="681.30" r="5.15" fill="none" stroke="#2A78B8" stroke-width="1.9"/>
<circle cx="1662.10" cy="737.30" r="5.15" fill="none" stroke="#2A78B8" stroke-width="1.9"/>
<circle cx="1675.50" cy="770.30" r="5.15" fill="none" stroke="#2A78B8" stroke-width="1.9"/>
<circle cx="1668.00" cy="780.10" r="5.15" fill="none" stroke="#2A78B8" stroke-width="1.9"/>
<circle cx="1684.50" cy="824.10" r="5.15" fill="none" stroke="#2A78B8" stroke-width="1.9"/>
<circle cx="1690.90" cy="826.20" r="5.15" fill="none" stroke="#2A78B8" stroke-width="1.9"/>
<circle cx="1669.20" cy="830.10" r="5.15" fill="none" stroke="#2A78B8" stroke-width="1.9"/>
<circle cx="1677.60" cy="840.00" r="5.15" fill="none" stroke="#2A78B8" stroke-width="1.9"/>
<circle cx="1650.00" cy="854.20" r="5.15" fill="none" stroke="#2A78B8" stroke-width="1.9"/>
<circle cx="1706.50" cy="869.00" r="5.15" fill="none" stroke="#2A78B8" stroke-width="1.9"/>
<circle cx="1653.00" cy="890.70" r="5.15" fill="none" stroke="#2A78B8" stroke-width="1.9"/>
<circle cx="1710.60" cy="890.70" r="5.15" fill="none" stroke="#2A78B8" stroke-width="1.9"/>
<circle cx="1694.40" cy="930.00" r="5.15" fill="none" stroke="#2A78B8" stroke-width="1.9"/>
<circle cx="1520.60" cy="752.30" r="5.15" fill="none" stroke="#2A78B8" stroke-width="1.9"/>
<circle cx="1655.80" cy="782.10" r="9.85" fill="#2A78B8"/>
<circle cx="1664.80" cy="709.60" r="9.85" fill="#2A78B8"/>
<circle cx="1620.00" cy="284.00" r="9.85" fill="#D50F16"/>
<circle cx="1604.50" cy="385.20" r="9.85" fill="#D50F16"/>
<circle cx="1656.10" cy="189.30" r="9.85" fill="#F9AC5A"/>
<circle cx="1654.90" cy="224.40" r="9.85" fill="#F9AC5A"/>
<circle cx="1628.40" cy="241.00" r="9.85" fill="#F9AC5A"/>
<circle cx="1671.10" cy="244.80" r="9.85" fill="#F9AC5A"/>
<circle cx="1669.40" cy="250.80" r="9.85" fill="#F9AC5A"/>
<circle cx="1621.30" cy="582.90" r="9.85" fill="#F9AC5A"/>
<circle cx="1649.10" cy="690.00" r="9.85" fill="#F9AC5A"/>
<circle cx="1669.60" cy="709.60" r="9.85" fill="#F9AC5A"/>
<text x="246.60" y="1241.80" font-size="45.2" fill="#000">Alteration intensity</text>
<circle cx="678.60" cy="1230.00" r="11.5" fill="#2A78B8"/>
<text x="733.60" y="1241.80" font-size="45.2" fill="#000" textLength="465.13" lengthAdjust="spacingAndGlyphs">Fresh to slightly altered</text>
<circle cx="1255.60" cy="1229.80" r="11.5" fill="#F9AC5A"/>
<text x="1310.00" y="1241.80" font-size="45.2" fill="#000">Moderately altered</text>
<circle cx="1743.80" cy="1229.90" r="11.5" fill="#D50F16"/>
<text x="1798.70" y="1241.80" font-size="45.2" fill="#000">Highly altered</text>
<text x="246.40" y="1352.20" font-size="45.2" fill="#000">Lithologies</text>
<circle cx="678.10" cy="1340.30" r="10.0" fill="#000"/>
<text x="725.20" y="1352.20" font-size="45.2" fill="#000" textLength="95.52" lengthAdjust="spacingAndGlyphs">Lava</text>
<path d="M916.90 1329.70 L929.83 1352.10 L903.97 1352.10 Z" fill="#000"/>
<text x="962.30" y="1352.20" font-size="45.2" fill="#000">Tuff</text>
<rect x="1111.30" y="1330.40" width="19.8" height="19.8" fill="#000"/>
<text x="1169.10" y="1352.20" font-size="45.2" fill="#000" textLength="147.82" lengthAdjust="spacingAndGlyphs">Breccia</text>
<path d="M1374.80 1340.00 H1402.40 M1388.60 1326.20 V1353.80" stroke="#000" stroke-width="2.6" stroke-linecap="round" fill="none"/>
<text x="1444.40" y="1352.20" font-size="45.2" fill="#000" textLength="274.22" lengthAdjust="spacingAndGlyphs">Vesicular lava</text>
<path d="M1759.25 1330.25 H1779.15 V1350.15 H1759.25 Z M1759.25 1330.25 L1779.15 1350.15 M1759.25 1350.15 L1779.15 1330.25" stroke="#000" stroke-width="2.8" stroke-linejoin="round" stroke-linecap="round" fill="none"/>
<text x="1818.10" y="1352.20" font-size="45.2" fill="#000">Sulfur flow</text>
<circle cx="962.00" cy="1435.30" r="5.1" fill="none" stroke="#000" stroke-width="2.0"/>
<text x="1009.8" y="1447.5" font-size="45.2" fill="#000" textLength="667.5" lengthAdjust="spacingAndGlyphs">Lava (Woodward &amp; Mumme, 1993)</text>
</svg>
</body></html>
